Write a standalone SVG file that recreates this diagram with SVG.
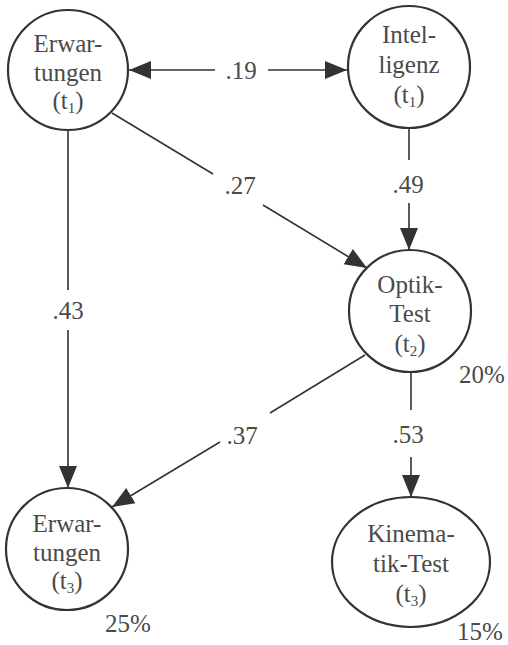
<svg xmlns="http://www.w3.org/2000/svg" width="508" height="645" viewBox="0 0 508 645">
  <style>
    .node { fill: #ffffff; stroke: #333333; stroke-width: 2.2; }
    .edge { stroke: #333333; stroke-width: 1.6; fill: none; }
  </style>
  <defs>
    <marker id="arrow" markerUnits="userSpaceOnUse" markerWidth="24" markerHeight="20" viewBox="0 0 24 20" refX="22" refY="10" orient="auto-start-reverse">
      <path d="M0,1 L22,10 L0,19 Z" fill="#333333"/>
    </marker>
  </defs>

  <rect width="508" height="645" fill="#ffffff"/>

  <!-- connectors -->
  <g id="connectors">
    <!-- Erwartungen t1 <-> Intelligenz t1 -->
    <line class="edge" x1="215" y1="70" x2="129" y2="70" marker-end="url(#arrow)"/>
    <line class="edge" x1="268" y1="70" x2="347" y2="70" marker-end="url(#arrow)"/>
    <text x="241" y="79" font-size="25" fill="#4a4a4a" text-anchor="middle" style="font-family:'Liberation Serif'">.19</text>

    <!-- Erwartungen t1 -> Optik-Test t2 -->
    <line class="edge" x1="112" y1="113" x2="213" y2="174"/>
    <line class="edge" x1="263" y1="205" x2="367" y2="268" marker-end="url(#arrow)"/>
    <text x="240" y="194" font-size="25" fill="#4a4a4a" text-anchor="middle" style="font-family:'Liberation Serif'">.27</text>

    <!-- Intelligenz t1 -> Optik-Test t2 -->
    <line class="edge" x1="409" y1="128" x2="409" y2="160"/>
    <line class="edge" x1="409" y1="203" x2="409" y2="250" marker-end="url(#arrow)"/>
    <text x="408" y="193" font-size="25" fill="#4a4a4a" text-anchor="middle" style="font-family:'Liberation Serif'">.49</text>

    <!-- Erwartungen t1 -> Erwartungen t3 -->
    <line class="edge" x1="68" y1="129" x2="68" y2="290"/>
    <line class="edge" x1="68" y1="330" x2="68" y2="488" marker-end="url(#arrow)"/>
    <text x="68" y="319" font-size="25" fill="#4a4a4a" text-anchor="middle" style="font-family:'Liberation Serif'">.43</text>

    <!-- Optik-Test t2 -> Erwartungen t3 -->
    <line class="edge" x1="365" y1="355" x2="270" y2="413"/>
    <line class="edge" x1="220" y1="442" x2="112" y2="507" marker-end="url(#arrow)"/>
    <text x="242" y="444" font-size="25" fill="#4a4a4a" text-anchor="middle" style="font-family:'Liberation Serif'">.37</text>

    <!-- Optik-Test t2 -> Kinematik-Test t3 -->
    <line class="edge" x1="411" y1="372" x2="411" y2="410"/>
    <line class="edge" x1="411" y1="457" x2="411" y2="497" marker-end="url(#arrow)"/>
    <text x="408" y="443" font-size="25" fill="#4a4a4a" text-anchor="middle" style="font-family:'Liberation Serif'">.53</text>
  </g>

  <!-- nodes -->
  <g id="erwartungen-t1">
    <circle class="node" cx="68" cy="70" r="60"/>
    <text x="68" y="52" font-size="25" fill="#4a4a4a" text-anchor="middle" style="font-family:'Liberation Serif'">Erwar-</text>
    <text x="68" y="81" font-size="25" fill="#4a4a4a" text-anchor="middle" style="font-family:'Liberation Serif'">tungen</text>
    <text x="68" y="109" font-size="25" fill="#4a4a4a" text-anchor="middle" style="font-family:'Liberation Serif'">(t<tspan font-size="15" dy="4">1</tspan><tspan dy="-4">)</tspan></text>
  </g>

  <g id="intelligenz-t1">
    <circle class="node" cx="409" cy="67" r="61"/>
    <text x="409" y="43" font-size="25" fill="#4a4a4a" text-anchor="middle" style="font-family:'Liberation Serif'">Intel-</text>
    <text x="409" y="73" font-size="25" fill="#4a4a4a" text-anchor="middle" style="font-family:'Liberation Serif'">ligenz</text>
    <text x="409" y="103" font-size="25" fill="#4a4a4a" text-anchor="middle" style="font-family:'Liberation Serif'">(t<tspan font-size="15" dy="4">1</tspan><tspan dy="-4">)</tspan></text>
  </g>

  <g id="optik-test-t2">
    <circle class="node" cx="410" cy="311" r="61"/>
    <text x="410" y="293" font-size="25" fill="#4a4a4a" text-anchor="middle" style="font-family:'Liberation Serif'">Optik-</text>
    <text x="410" y="322" font-size="25" fill="#4a4a4a" text-anchor="middle" style="font-family:'Liberation Serif'">Test</text>
    <text x="410" y="352" font-size="25" fill="#4a4a4a" text-anchor="middle" style="font-family:'Liberation Serif'">(t<tspan font-size="15" dy="4">2</tspan><tspan dy="-4">)</tspan></text>
    <text x="482" y="383" font-size="25" fill="#4a4a4a" text-anchor="middle" style="font-family:'Liberation Serif'">20%</text>
  </g>

  <g id="erwartungen-t3">
    <circle class="node" cx="67" cy="549" r="61"/>
    <text x="67" y="532" font-size="25" fill="#4a4a4a" text-anchor="middle" style="font-family:'Liberation Serif'">Erwar-</text>
    <text x="67" y="561" font-size="25" fill="#4a4a4a" text-anchor="middle" style="font-family:'Liberation Serif'">tungen</text>
    <text x="67" y="589" font-size="25" fill="#4a4a4a" text-anchor="middle" style="font-family:'Liberation Serif'">(t<tspan font-size="15" dy="4">3</tspan><tspan dy="-4">)</tspan></text>
    <text x="128" y="632" font-size="25" fill="#4a4a4a" text-anchor="middle" style="font-family:'Liberation Serif'">25%</text>
  </g>

  <g id="kinematik-test-t3">
    <ellipse class="node" cx="411" cy="562" rx="79" ry="65"/>
    <text x="411" y="542" font-size="25" fill="#4a4a4a" text-anchor="middle" style="font-family:'Liberation Serif'">Kinema-</text>
    <text x="411" y="572" font-size="25" fill="#4a4a4a" text-anchor="middle" style="font-family:'Liberation Serif'">tik-Test</text>
    <text x="411" y="602" font-size="25" fill="#4a4a4a" text-anchor="middle" style="font-family:'Liberation Serif'">(t<tspan font-size="15" dy="4">3</tspan><tspan dy="-4">)</tspan></text>
    <text x="480" y="640" font-size="25" fill="#4a4a4a" text-anchor="middle" style="font-family:'Liberation Serif'">15%</text>
  </g>
</svg>
